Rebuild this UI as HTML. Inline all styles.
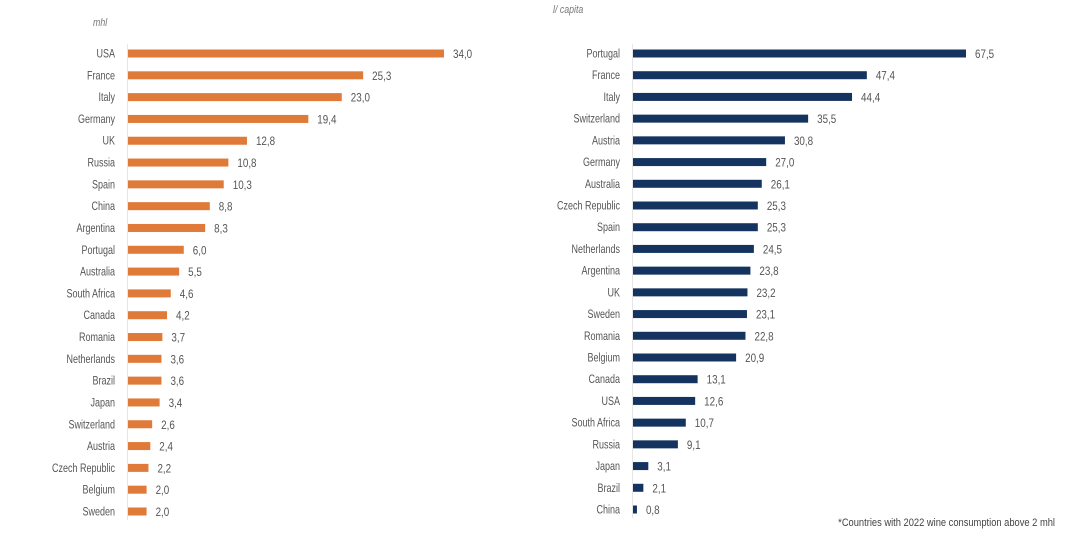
<!DOCTYPE html>
<html><head><meta charset="utf-8"><style>
html,body{margin:0;padding:0;background:#fff;}
svg{display:block;font-family:"Liberation Sans Narrow","Liberation Sans",sans-serif;}
</style></head><body>
<svg id="chart" width="1080" height="546" viewBox="0 0 1080 546">
<text transform="translate(93,26) scale(0.8,1)" font-size="11" font-style="italic" fill="#777">mhl</text>
<text transform="translate(553,13) scale(0.8,1)" font-size="11" font-style="italic" fill="#777">l/ capita</text>
<line x1="127.5" y1="44" x2="127.5" y2="520" stroke="#e6e6e6"/>
<line x1="632.5" y1="44" x2="632.5" y2="518" stroke="#e6e6e6"/>
<g id="left"></g>
<g id="right"></g>
<text transform="translate(1055,526) scale(0.85,1)" font-size="11" fill="#444" text-anchor="end">*Countries with 2022 wine consumption above 2 mhl</text>
</svg>
<script>
const leftCategories=["USA","France","Italy","Germany","UK","Russia","Spain","China","Argentina","Portugal","Australia","South Africa","Canada","Romania","Netherlands","Brazil","Japan","Switzerland","Austria","Czech Republic","Belgium","Sweden"];
const leftValues=[34.0,25.3,23.0,19.4,12.8,10.8,10.3,8.8,8.3,6.0,5.5,4.6,4.2,3.7,3.6,3.6,3.4,2.6,2.4,2.2,2.0,2.0];
const rightCategories=["Portugal","France","Italy","Switzerland","Austria","Germany","Australia","Czech Republic","Spain","Netherlands","Argentina","UK","Sweden","Romania","Belgium","Canada","USA","South Africa","Russia","Japan","Brazil","China"];
const rightValues=[67.5,47.4,44.4,35.5,30.8,27.0,26.1,25.3,25.3,24.5,23.8,23.2,23.1,22.8,20.9,13.1,12.6,10.7,9.1,3.1,2.1,0.8];
const NS="http://www.w3.org/2000/svg";
function draw(gid,cats,vals,x0,pxPerUnit,y0,step,color){
  const g=document.getElementById(gid);
  const xs=v=>x0+v*pxPerUnit;
  const ys=i=>y0+i*step;
  cats.forEach((c,i)=>{
    const y=ys(i);
    const lab=document.createElementNS(NS,"text");
    lab.setAttribute("transform","translate("+(x0-13)+","+(y+4)+") scale(0.75,1)");
    lab.setAttribute("text-anchor","end");
    lab.setAttribute("font-size","12");lab.setAttribute("fill","#555");lab.textContent=c;
    
    
    g.appendChild(lab);
    const r=document.createElementNS(NS,"rect");
    r.setAttribute("x",x0);r.setAttribute("y",y-4);r.setAttribute("height",8);
    r.setAttribute("width",Math.max(0,xs(vals[i])-x0));r.setAttribute("fill",color);
    
    
    g.appendChild(r);
    const t=document.createElementNS(NS,"text");
    t.setAttribute("transform","translate("+(xs(vals[i])+9)+","+(y+4.5)+") scale(0.82,1)");
    t.setAttribute("font-size","12");t.setAttribute("fill","#555");
    t.textContent=vals[i].toFixed(1).replace(".",",");
    
    
    g.appendChild(t);
  });
}
draw("left",leftCategories,leftValues,128,(444-128)/34,53.5,(511.5-53.5)/21,"#e07a38");
draw("right",rightCategories,rightValues,633,(966-633)/67.5,53.5,(509.5-53.5)/21,"#14345f");
</script>
</body></html>
